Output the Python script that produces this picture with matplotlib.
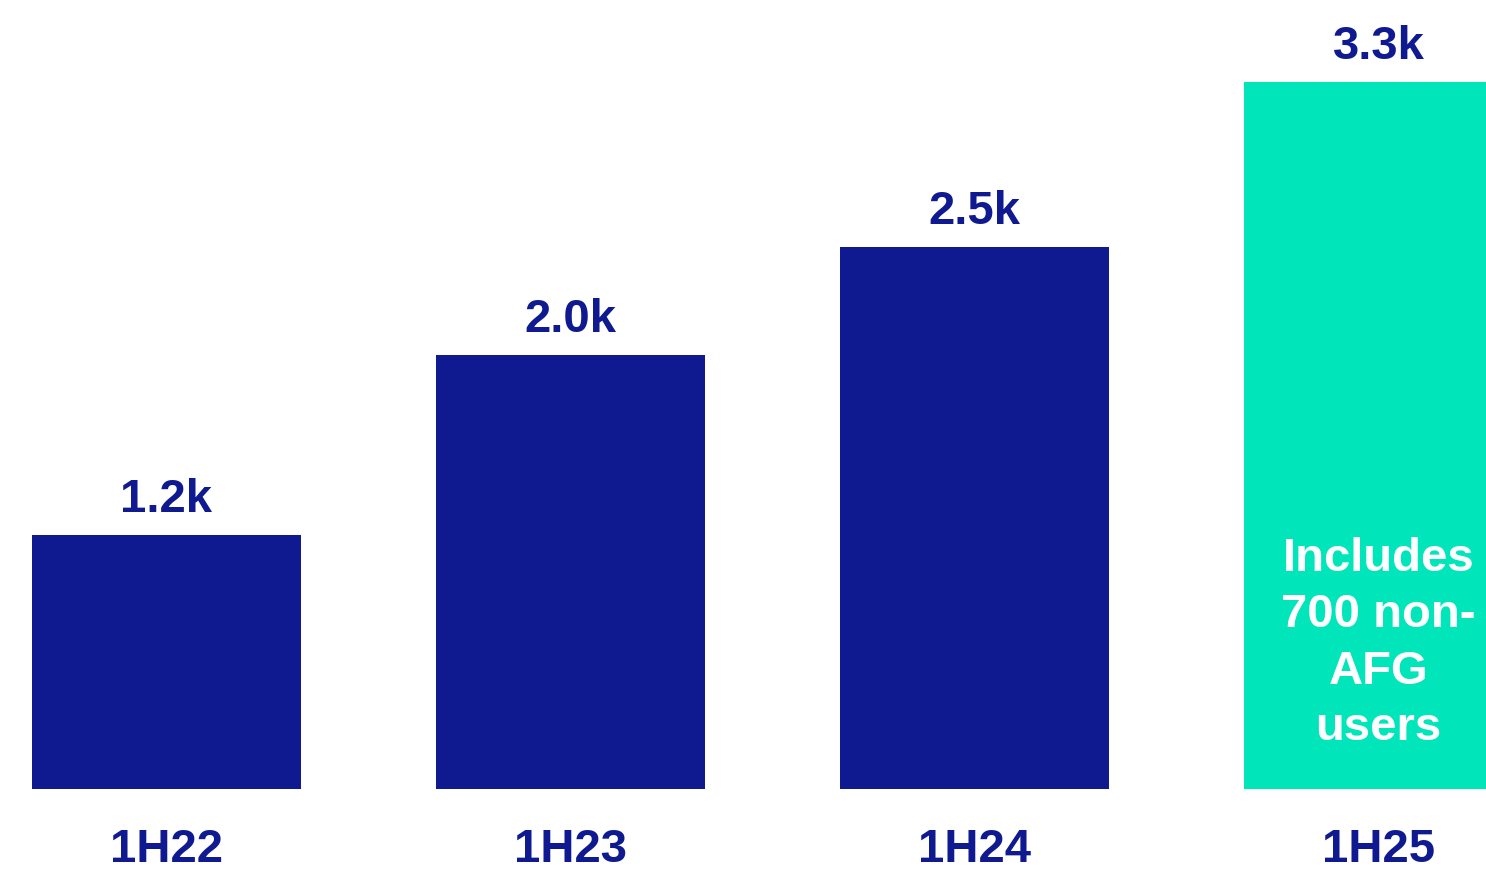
import matplotlib
matplotlib.use("Agg")
import matplotlib.pyplot as plt

categories = ["1H22", "1H23", "1H24", "1H25"]
values = [1.17, 2.0, 2.5, 3.26]
value_labels = ["1.2k", "2.0k", "2.5k", "3.3k"]
note_text = "Includes\n700 non-\nAFG\nusers"

dark_blue = "#0F1990"
teal = "#00E6BA"
colors = [dark_blue, dark_blue, dark_blue, teal]

plt.rcParams['font.family'] = ['Liberation Sans', 'DejaVu Sans']

fig = plt.figure(figsize=(14.86, 8.71), dpi=100)
ax = fig.add_axes([0, 0, 1, 1])

x = list(range(len(categories)))
ax.bar(x, values, width=0.666, color=colors)

ax.set_xlim(-0.412, 3.266)
ax.set_ylim(-0.378, 3.636)
ax.axis('off')

for xi, v, lab in zip(x, values, value_labels):
    ax.annotate(lab, (xi, v), xytext=(0, 16.5), textcoords='offset points',
                ha='center', va='baseline', fontsize=34, fontweight='bold',
                color=dark_blue)

for xi, cat in zip(x, categories):
    ax.text(xi, -0.335, cat, ha='center', va='baseline', fontsize=34,
            fontweight='bold', color=dark_blue)

ax.text(x[-1], 0.67, note_text, ha='center', va='center', fontsize=34,
        fontweight='bold', color='white', linespacing=1.36)

fig.savefig("out.png", dpi=100)
